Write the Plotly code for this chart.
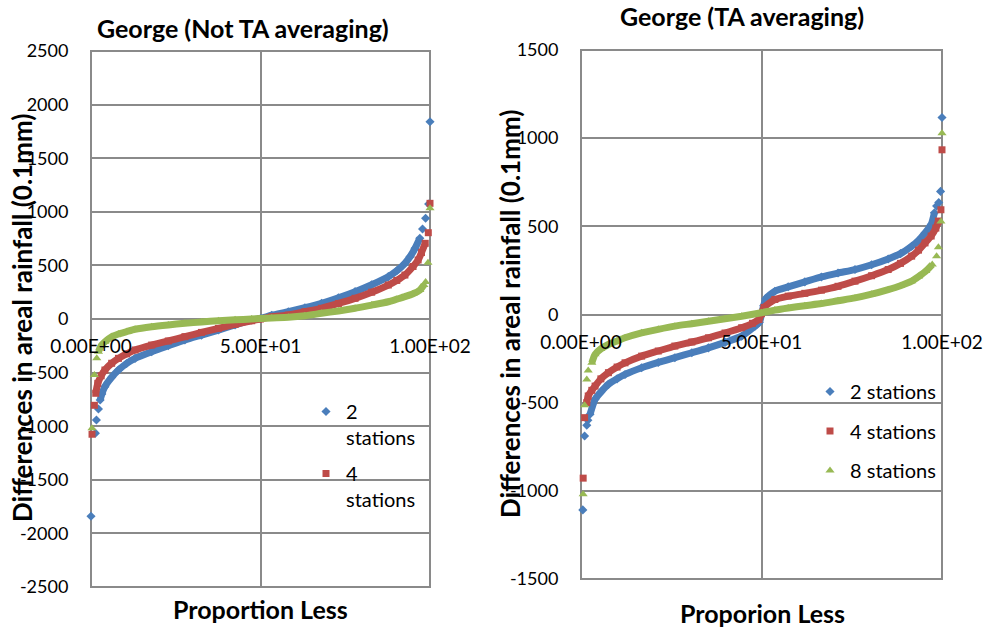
import plotly.graph_objects as go

# ---------------- data ----------------
# Left panel: George (Not TA averaging)
XL_2 = [0, 1.3, 1.6, 2.2, 2.7, 3.2, 4.1, 6.1, 8.1, 10.5, 13, 17.9, 22.8, 27.7, 32.6, 37.6, 42.5, 47.4, 50, 53.3,
        58.2, 63.1, 68, 73, 77.9, 82.8, 87.7, 90.2, 92.6, 94.1, 95.6, 97, 97.8, 98.7, 99.6, 100]
YL_2 = [-1840, -1065, -942, -840, -755, -700, -631, -544, -476, -415, -367, -305, -250, -196, -150, -103, -55, -9, 5, 35,
        68, 105, 146, 198, 255, 320, 395, 450, 520, 580, 660, 753, 840, 940, 1073, 1840]
XL_4 = [0.3, 1.0, 1.4, 2.0, 3, 4.1, 6.1, 8.1, 10.5, 13, 17.9, 22.8, 27.7, 32.6, 37.6, 42.5, 47.4, 50, 53.3, 58.2,
        63.1, 68, 73, 77.9, 82.8, 87.7, 90.2, 92.6, 95, 96.5, 97.5, 98.6, 99.5, 100]
YL_4 = [-1075, -805, -693, -600, -530, -476, -413, -367, -325, -289, -243, -205, -165, -125, -87, -50, -16, 0, 20, 37,
        68, 100, 145, 193, 250, 317, 360, 410, 490, 550, 620, 706, 805, 1079]
XL_8 = [0.3, 1.0, 1.7, 2.2, 3, 4.1, 6.1, 8.1, 10.5, 13, 17.9, 22.8, 27.7, 32.6, 37.6, 42.5, 47.4, 50, 53.3, 58.2,
        63.1, 68, 73, 77.9, 82.8, 87.7, 90.2, 92.6, 95, 97, 98.2, 98.7, 99.4, 100]
YL_8 = [-1020, -522, -367, -305, -250, -212, -165, -140, -118, -96, -72, -55, -40, -28, -16, -8, 0, 5, 10, 16,
        30, 53, 75, 100, 130, 161, 185, 208, 235, 270, 317, 345, 525, 1032]

# Right panel: George (TA averaging)
XR_2 = [0.5, 1.0, 1.6, 1.9, 2.5, 3.9, 5.5, 7.6, 10, 12.2, 16.8, 21.4, 26, 30.7, 35.3, 39.9, 44.5, 48.2, 49.4, 50,
        50.6, 51.2, 53.7, 57.4, 62, 66.6, 71.2, 75.9, 80.5, 85.1, 88.5, 91.6, 93.5, 95.3, 97, 97.9, 98.5, 99.1, 99.6, 100]
YR_2 = [-1108, -689, -628, -600, -566, -481, -440, -396, -365, -340, -302, -272, -245, -217, -189, -158, -123, -66, -45, 0,
        50, 90, 132, 157, 185, 213, 235, 255, 282, 315, 345, 387, 420, 462, 510, 577, 615, 635, 698, 1117]
XR_4 = [0.6, 1.0, 1.6, 2.0, 3.0, 3.9, 5.5, 7.6, 10, 12.2, 16.8, 21.4, 26, 30.7, 35.3, 39.9, 44.5, 47.5, 49.3, 50,
        50.7, 53.7, 57.4, 62, 66.6, 71.2, 75.9, 80.5, 85.1, 88.5, 91.6, 93.5, 95.3, 97, 98.3, 99.0, 99.7, 100]
YR_4 = [-928, -585, -500, -462, -430, -406, -365, -330, -298, -274, -236, -207, -179, -156, -132, -105, -75, -50, -28, 5,
        40, 85, 104, 120, 138, 160, 189, 220, 255, 290, 331, 365, 406, 445, 490, 530, 594, 934]
XR_8 = [0.6, 1.0, 1.6, 2.0, 3.0, 3.9, 5.5, 7.6, 10, 12.2, 16.8, 21.4, 26, 30.7, 35.3, 39.9, 44.5, 50, 53.7, 57.4,
        62, 66.6, 71.2, 75.9, 80.5, 85.1, 88.5, 91.6, 93.5, 95.5, 97.3, 98.5, 99.0, 99.7, 100]
YR_8 = [-1019, -515, -368, -317, -274, -226, -195, -170, -150, -132, -104, -84, -66, -52, -38, -24, -10, 10, 25, 37,
        50, 62, 78, 94, 115, 141, 163, 189, 215, 246, 283, 330, 382, 527, 1028]

X_TICKVALS = [0, 50, 100]
X_TICKTEXT = ["0.00E+00", "5.00E+01", "1.00E+02"]
YL_TICKVALS = [-2500, -2000, -1500, -1000, -500, 0, 500, 1000, 1500, 2000, 2500]
YL_TICKTEXT = ["-2500", "-2000", "-1500", "-1000", "-500", "0", "500", "1000", "1500", "2000", "2500"]
YR_TICKVALS = [-1500, -1000, -500, 0, 500, 1000, 1500]
YR_TICKTEXT = ["-1500", "-1000", "-500", "0", "500", "1000", "1500"]
NAMES_LEFT = ["2<br>stations", "4<br>stations", "8<br>stations"]
NAMES_RIGHT = ["2 stations", "4 stations", "8 stations"]

# ---------------- style ----------------
COLORS = ["#4A7EBB", "#BE4B48", "#98B954"]
SYMBOLS = ["diamond", "square", "triangle-up"]
SIZES = [7, 7, 8]
GRID = "#8A8A8A"
FONT = "Lato, Carlito, sans-serif"
W, H = 983, 630

fig = go.Figure()

# number of separate (tail) points at each end of each series
TAILS_L = [(4, 4), (2, 2), (3, 3)]
TAILS_R = [(4, 4), (2, 2), (4, 4)]

def add_series(xs, ys, idx, name, xa, ya, tails, legend, showleg, group):
    lo, hi = tails
    n = len(xs)
    fig.add_trace(go.Scatter(x=xs[lo:n - hi], y=ys[lo:n - hi], mode="lines",
                             line=dict(color=COLORS[idx], width=7, shape="spline", smoothing=0.6),
                             xaxis=xa, yaxis=ya, showlegend=False, hoverinfo="skip", cliponaxis=False))
    fig.add_trace(go.Scatter(x=xs, y=ys, mode="markers", name=name, legendgroup=group,
                             marker=dict(color=COLORS[idx], symbol=SYMBOLS[idx], size=SIZES[idx]),
                             xaxis=xa, yaxis=ya, legend=legend, showlegend=showleg, cliponaxis=False))

left = [(XL_2, YL_2), (XL_4, YL_4), (XL_8, YL_8)]
right = [(XR_2, YR_2), (XR_4, YR_4), (XR_8, YR_8)]
for i, (xs, ys) in enumerate(left):
    add_series(xs, ys, i, NAMES_LEFT[i], "x", "y", TAILS_L[i], "legend", i < 2, "L%d" % i)
for i, (xs, ys) in enumerate(right):
    add_series(xs, ys, i, NAMES_RIGHT[i], "x2", "y2", TAILS_R[i], "legend2", True, "R%d" % i)

def px(x):
    return x / W

def py(y):
    return 1 - y / H

xcommon = dict(range=[0, 100], tickvals=X_TICKVALS, ticktext=X_TICKTEXT, showgrid=True,
               gridcolor=GRID, gridwidth=2, zeroline=False, showline=False, anchor="free",
               ticks="outside", ticklen=10, tickcolor="rgba(0,0,0,0)", automargin=False,
               ticklabeloverflow="allow",
               tickfont=dict(size=19, color="black"), fixedrange=True)
ycommon = dict(showgrid=True, gridcolor=GRID, gridwidth=2, zeroline=True,
               zerolinecolor=GRID, zerolinewidth=2, showline=False, ticks="outside",
               ticklen=18, tickcolor="rgba(0,0,0,0)", tickfont=dict(size=18, color="black"),
               fixedrange=True, automargin=False)

fig.update_layout(
    width=W, height=H, autosize=False,
    margin=dict(l=0, r=0, t=0, b=0, pad=0),
    paper_bgcolor="white", plot_bgcolor="white",
    font=dict(family=FONT, color="black"),
    xaxis=dict(domain=[px(91), px(430)], position=py(319), **xcommon),
    yaxis=dict(domain=[py(587), py(51)], range=[-2500, 2500], anchor="x",
               tickvals=YL_TICKVALS, ticktext=YL_TICKTEXT, **ycommon),
    xaxis2=dict(domain=[px(581), px(942)], position=py(315), **xcommon),
    yaxis2=dict(domain=[py(579), py(50)], range=[-1500, 1500], anchor="x2",
                tickvals=YR_TICKVALS, ticktext=YR_TICKTEXT, **ycommon),
    legend=dict(x=px(306), y=py(392), xanchor="left", yanchor="top", bgcolor="rgba(0,0,0,0)",
                font=dict(size=20, color="black"), traceorder="grouped", tracegroupgap=7,
                itemwidth=30, valign="top"),
    legend2=dict(x=px(810), y=py(372), xanchor="left", yanchor="top", bgcolor="rgba(0,0,0,0)",
                 font=dict(size=20, color="black"), traceorder="grouped", tracegroupgap=10.5,
                 itemwidth=30),
    showlegend=True,
)

# plot-area borders
for xr, yr in [("x domain", "y domain"), ("x2 domain", "y2 domain")]:
    fig.add_shape(type="rect", xref=xr, yref=yr, x0=0, x1=1, y0=0, y1=1,
                  line=dict(color=GRID, width=2), layer="below")

ann = [
    ("<b>George (Not TA averaging)</b>", 243, 28, 0, 25),
    ("<b>George (TA averaging)</b>", 742, 16, 0, 25),
    ("<b>Differences in areal rainfall (0.1mm)</b>", 22, 318, -90, 26),
    ("<b>Differences in areal rainfall (0.1mm)</b>", 510, 314, -90, 26),
    ("<b>Proportion Less</b>", 260, 609, 0, 25),
    ("<b>Proporion Less</b>", 762, 613, 0, 25),
]
for text, x, y, ang, size in ann:
    fig.add_annotation(text=text, x=px(x), y=py(y), xref="paper", yref="paper",
                       xanchor="center", yanchor="middle", showarrow=False, textangle=ang,
                       font=dict(size=size, color="black", family=FONT))

fig.write_html("out.html")
